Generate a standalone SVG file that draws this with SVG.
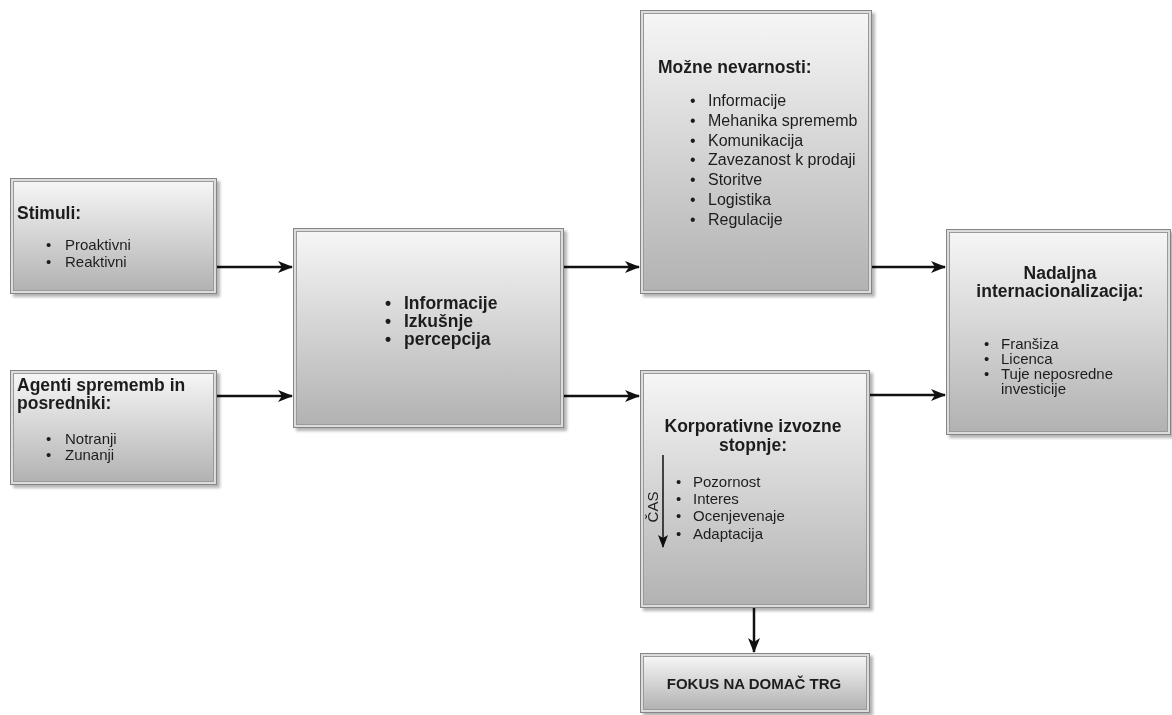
<svg xmlns="http://www.w3.org/2000/svg" width="1172" height="715" viewBox="0 0 1172 715">
  <defs>
    <linearGradient id="boxFill" x1="0" y1="0" x2="0" y2="1">
      <stop offset="0" stop-color="#f6f6f6"/>
      <stop offset="1" stop-color="#b2b2b2"/>
    </linearGradient>
    <filter id="shadow" x="-10%" y="-10%" width="125%" height="125%">
      <feGaussianBlur in="SourceAlpha" stdDeviation="1.5"/>
      <feOffset dx="3" dy="3" result="b"/>
      <feComponentTransfer><feFuncA type="linear" slope="0.3"/></feComponentTransfer>
      <feMerge><feMergeNode/><feMergeNode in="SourceGraphic"/></feMerge>
    </filter>
    <marker id="arrow" viewBox="0 0 15 12" refX="14" refY="6" markerWidth="15" markerHeight="12" markerUnits="userSpaceOnUse" orient="auto">
      <path d="M0,0 L15,6 L0,12 L4,6 Z" fill="#111"/>
    </marker>
    <marker id="arrowSmall" viewBox="0 0 10 13" refX="5" refY="12" markerWidth="10" markerHeight="13" markerUnits="userSpaceOnUse" orient="0">
      <path d="M0,0 L5,13 L10,0 L5,3 Z" fill="#111"/>
    </marker>
  </defs>
  <style>
    .outer { fill: #dcdcdc; stroke: #858585; stroke-width: 1; }
    .inner { fill: url(#boxFill); stroke: #9a9a9a; stroke-width: 1; }
    text { font-family: "Liberation Sans", Arial, Helvetica, sans-serif; fill: #1e1e1e; }
    .title { font-size: 17.5px; font-weight: bold; }
    .item { font-size: 15px; }
    .item16 { font-size: 16px; }
    .bold { font-size: 17.5px; font-weight: bold; }
    .mid { text-anchor: middle; }
    .conn { stroke: #111; stroke-width: 2.5; fill: none; }
  </style>

  <!-- connectors -->
  <g id="connectors">
    <line class="conn" x1="216" y1="267" x2="292" y2="267" marker-end="url(#arrow)"/>
    <line class="conn" x1="216" y1="396" x2="292" y2="396" marker-end="url(#arrow)"/>
    <line class="conn" x1="563" y1="267" x2="639" y2="267" marker-end="url(#arrow)"/>
    <line class="conn" x1="563" y1="396" x2="639" y2="396" marker-end="url(#arrow)"/>
    <line class="conn" x1="871" y1="267" x2="945" y2="267" marker-end="url(#arrow)"/>
    <line class="conn" x1="869" y1="395" x2="945" y2="395" marker-end="url(#arrow)"/>
    <line class="conn" x1="754" y1="607" x2="754" y2="652" marker-end="url(#arrow)"/>
  </g>

  <!-- Stimuli -->
  <g id="stimuli" filter="url(#shadow)">
    <rect class="outer" x="10.5" y="178.5" width="206" height="115"/>
    <rect class="inner" x="13.5" y="181.5" width="200" height="109"/>
    <text class="title" x="17" y="219">Stimuli:</text>
    <text class="item" x="46" y="250">•</text>
    <text class="item" x="65" y="250">Proaktivni</text>
    <text class="item" x="46" y="267">•</text>
    <text class="item" x="65" y="267">Reaktivni</text>
  </g>

  <!-- Agenti sprememb in posredniki -->
  <g id="agenti" filter="url(#shadow)">
    <rect class="outer" x="10.5" y="370.5" width="206" height="114"/>
    <rect class="inner" x="13.5" y="373.5" width="200" height="108"/>
    <text class="title" x="17" y="391">Agenti sprememb in</text>
    <text class="title" x="17" y="409">posredniki:</text>
    <text class="item" x="46" y="444">•</text>
    <text class="item" x="65" y="444">Notranji</text>
    <text class="item" x="46" y="460">•</text>
    <text class="item" x="65" y="460">Zunanji</text>
  </g>

  <!-- Informacije / Izkušnje / percepcija -->
  <g id="informacije" filter="url(#shadow)">
    <rect class="outer" x="293.5" y="228.5" width="270" height="199"/>
    <rect class="inner" x="296.5" y="231.5" width="264" height="193"/>
    <text class="bold" x="385" y="309">•</text>
    <text class="bold" x="404" y="309">Informacije</text>
    <text class="bold" x="385" y="327">•</text>
    <text class="bold" x="404" y="327">Izkušnje</text>
    <text class="bold" x="385" y="345">•</text>
    <text class="bold" x="404" y="345">percepcija</text>
  </g>

  <!-- Možne nevarnosti -->
  <g id="nevarnosti" filter="url(#shadow)">
    <rect class="outer" x="640.5" y="10.5" width="231" height="283"/>
    <rect class="inner" x="643.5" y="13.5" width="225" height="277"/>
    <text class="title" x="658" y="73">Možne nevarnosti:</text>
    <g class="item16">
      <text x="690" y="106">•</text><text x="708" y="106">Informacije</text>
      <text x="690" y="126">•</text><text x="708" y="126">Mehanika sprememb</text>
      <text x="690" y="146">•</text><text x="708" y="146">Komunikacija</text>
      <text x="690" y="165">•</text><text x="708" y="165">Zavezanost k prodaji</text>
      <text x="690" y="185">•</text><text x="708" y="185">Storitve</text>
      <text x="690" y="205">•</text><text x="708" y="205">Logistika</text>
      <text x="690" y="225">•</text><text x="708" y="225">Regulacije</text>
    </g>
  </g>

  <!-- Korporativne izvozne stopnje -->
  <g id="stopnje" filter="url(#shadow)">
    <rect class="outer" x="640.5" y="370.5" width="229" height="237"/>
    <rect class="inner" x="643.5" y="373.5" width="223" height="231"/>
    <text class="title mid" x="753" y="432">Korporativne izvozne</text>
    <text class="title mid" x="753" y="451">stopnje:</text>
    <line x1="663" y1="455" x2="663" y2="547" stroke="#111" stroke-width="1.5" marker-end="url(#arrowSmall)"/>
    <text class="item mid" transform="translate(658,507) rotate(-90)" font-size="14">ČAS</text>
    <text class="item" x="676" y="487">•</text><text class="item" x="693" y="487">Pozornost</text>
    <text class="item" x="676" y="504">•</text><text class="item" x="693" y="504">Interes</text>
    <text class="item" x="676" y="521">•</text><text class="item" x="693" y="521">Ocenjevenaje</text>
    <text class="item" x="676" y="539">•</text><text class="item" x="693" y="539">Adaptacija</text>
  </g>

  <!-- Fokus na domač trg -->
  <g id="fokus" filter="url(#shadow)">
    <rect class="outer" x="640.5" y="653.5" width="229" height="59"/>
    <rect class="inner" x="643.5" y="656.5" width="223" height="53"/>
    <text class="mid" x="754" y="689" font-size="15" font-weight="bold">FOKUS NA DOMAČ TRG</text>
  </g>

  <!-- Nadaljna internacionalizacija -->
  <g id="internacionalizacija" filter="url(#shadow)">
    <rect class="outer" x="946.5" y="229.5" width="224" height="205"/>
    <rect class="inner" x="949.5" y="232.5" width="218" height="199"/>
    <text class="title mid" x="1060" y="279">Nadaljna</text>
    <text class="title mid" x="1060" y="297">internacionalizacija:</text>
    <text class="item" x="984" y="349">•</text><text class="item" x="1001" y="349">Franšiza</text>
    <text class="item" x="984" y="364">•</text><text class="item" x="1001" y="364">Licenca</text>
    <text class="item" x="984" y="379">•</text><text class="item" x="1001" y="379">Tuje neposredne</text>
    <text class="item" x="1001" y="394">investicije</text>
  </g>
</svg>
